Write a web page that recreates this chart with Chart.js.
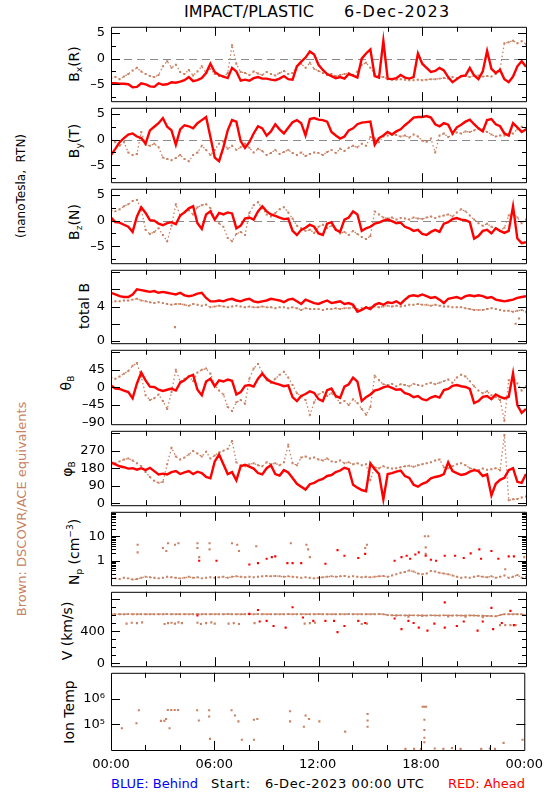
<!DOCTYPE html>
<html>
<head>
<meta charset="utf-8">
<script src="https://cdn.jsdelivr.net/npm/chart.js@4.4.1/dist/chart.umd.min.js"></script>
<style>
  body { margin: 0; background: #fff; overflow: hidden; }
  #wrap { position: relative; width: 550px; height: 800px; font-family: "DejaVu Sans"; color: #000; }
  #wrap canvas { position: absolute; left: 0; }
  .txt { position: absolute; white-space: pre; line-height: 1; }
  .rot { position: absolute; white-space: pre; line-height: 1; font-size: 14px;
         transform: translate(-50%, -50%) rotate(-90deg); }
  sub { font-size: 9px; vertical-align: -3px; line-height: 0; }
  sup { font-size: 9px; vertical-align: 6px; line-height: 0; }
</style>
</head>
<body>
<div id="wrap">
  <div class="txt" style="left:184px;top:4px;font-size:16px">IMPACT/PLASTIC</div>
  <div class="txt" style="left:344px;top:4px;font-size:16px;letter-spacing:1.3px">6-Dec-2023</div>

  <div class="rot" style="left:21px;top:186px;font-size:12px">(nanoTesla,  RTN)</div>
  <div class="rot" style="left:21px;top:509px;font-size:13px;color:rgb(200,130,100)">Brown: DSCOVR/ACE equivalents</div>

  <div class="rot" style="left:74px;top:64px">B<sub>x</sub>(R)</div>
  <div class="rot" style="left:74px;top:141px">B<sub>y</sub>(T)</div>
  <div class="rot" style="left:74px;top:222px">B<sub>z</sub>(N)</div>
  <div class="rot" style="left:84px;top:306px">total B</div>
  <div class="rot" style="left:66px;top:383px">θ<sub>B</sub></div>
  <div class="rot" style="left:67px;top:469px">φ<sub>B</sub></div>
  <div class="rot" style="left:74px;top:552px">N<sub>p</sub> (cm<sup>−3</sup>)</div>
  <div class="rot" style="left:67px;top:631px">V (km/s)</div>
  <div class="rot" style="left:69px;top:712px">Ion Temp</div>

  <div class="txt" style="left:111px;top:777px;font-size:13px;color:#0000ff">BLUE: Behind</div>
  <div class="txt" style="left:211px;top:777px;font-size:13px;letter-spacing:0.6px">Start:   6-Dec-2023 00:00 UTC</div>
  <div class="txt" style="right:25px;top:777px;font-size:13px;color:#ff0000">RED: Ahead</div>
</div>
<script>
// time grid, hours since 00:00 UTC, every 15 minutes
const hours = [];
for (let i = 0; i <= 96; i++) hours.push(i / 4);

const xTickHours = [0, 6, 12, 18, 24];
const xTickLabels = ['00:00', '06:00', '12:00', '18:00', '00:00'];

// Bx (R), nT
const bxRed = [
  -4.8,-4.8,-4.9,-4.9,-5.0,-5.6,-5.5,-4.8,-5.0,-5.4,-5.5,-4.8,
  -5.1,-5.0,-4.6,-4.7,-4.5,-4.2,-3.6,-4.4,-4.2,-3.8,-2.8,-1.0,
  -2.6,-3.2,-3.5,-3.8,-1.8,-2.5,-4.3,-4.1,-4.3,-3.8,-3.6,-3.9,
  -3.9,-4.1,-4.2,-3.9,-3.4,-4.0,-4.1,-1.5,-0.6,0.2,1.4,0.8,
  -1.2,-2.2,-3.0,-3.4,-3.8,-3.6,-3.9,-3.0,-3.3,-3.7,0.0,1.0,
  1.8,-3.4,-3.7,3.5,-3.9,-4.0,-3.8,-3.2,-3.7,-3.9,-3.6,1.0,
  -1.0,-1.8,-2.6,-2.4,-1.8,-2.3,-3.6,-4.6,-4.0,-3.4,-3.3,-1.8,
  -3.3,-4.0,-2.5,1.5,-2.0,-2.8,-2.2,-4.0,-4.6,-3.5,-1.5,-0.5,
  -1.6];
const bxBrown = [
  -3.8,-3.6,-4.0,-3.5,-3.0,-2.3,-1.8,-2.5,-3.0,-3.4,-3.6,-3.2,
  -1.5,-0.5,-1.8,-1.2,-2.6,-3.0,-2.2,-3.3,-2.5,-1.5,-2.8,-2.0,
  -3.0,-3.4,-3.5,-2.8,2.6,-1.0,-2.6,-2.8,-3.2,-2.5,-2.9,-3.2,
  -2.6,-3.0,-3.3,-2.8,-2.4,-3.0,-2.8,-1.5,-1.0,-1.8,-0.8,-2.0,
  -2.4,-2.8,-3.2,-3.0,-3.4,-3.2,-3.0,-2.8,-3.2,-2.5,-1.2,-0.8,
  -1.8,-3.0,-3.5,-3.6,-4.0,-4.1,-4.1,-4.0,-4.1,-4.2,-4.2,-4.1,
  -4.2,-4.1,-4.0,-4.0,-3.9,-3.8,-3.9,-3.6,-3.8,-3.5,-3.4,-3.6,
  -3.3,-3.3,-3.5,-3.4,-3.5,-3.0,-2.0,3.0,3.2,3.5,3.0,3.4,
  2.8];

// By (T), nT
const byRed = [
  -3.0,-1.8,-0.5,0.3,1.0,1.2,0.6,0.3,-0.8,1.8,2.5,3.2,
  4.2,2.5,1.8,-1.0,2.0,2.8,2.6,2.2,3.2,3.8,4.4,0.5,
  -3.5,-4.2,-1.5,1.8,3.8,3.5,-0.3,-1.6,-0.5,1.2,2.6,2.2,
  0.8,1.6,3.0,2.0,1.2,2.3,3.4,3.8,3.2,0.8,4.0,4.2,
  3.9,3.8,3.5,1.5,0.8,0.2,0.6,1.8,2.2,3.0,3.3,3.4,
  3.5,-1.0,0.3,0.8,1.5,1.0,1.6,2.0,2.8,3.5,4.3,4.4,
  4.4,4.6,4.3,3.0,2.6,3.2,2.9,1.2,2.4,2.9,3.5,3.9,
  3.0,2.2,1.6,3.8,4.0,3.0,2.6,1.2,0.8,3.2,2.4,1.5,
  2.0];
const byBrown = [
  0.2,-0.5,-1.2,-0.5,-2.5,-3.0,-2.8,1.5,-1.0,-1.2,-0.8,-1.5,
  -3.5,-3.8,-4.0,-3.6,-3.0,-3.8,-4.2,-3.0,-2.5,-1.2,-2.0,-3.0,
  -2.0,-0.8,-0.3,-1.8,-1.2,-2.0,-1.5,-0.8,-1.6,-2.5,-1.8,-2.2,
  -3.0,-2.6,-2.0,-2.8,-2.4,-2.0,-2.6,-3.0,-2.5,-3.2,-2.8,-2.5,
  -2.6,-3.0,-2.4,-2.0,-2.6,-1.8,-2.2,-1.6,-1.2,-1.5,-0.8,-1.2,
  0.5,0.2,-0.5,0.6,0.8,1.0,0.9,0.6,0.8,0.4,1.0,0.6,
  -0.2,-0.4,0.2,-2.5,0.8,1.2,0.5,1.0,1.4,1.2,1.6,1.5,
  1.8,2.2,2.0,1.5,1.0,0.6,0.8,0.8,1.0,1.2,2.0,2.5,
  2.2];

// Bz (N), nT
const bzRed = [
  0.6,-0.3,-0.4,-0.8,-1.2,-2.2,0.8,2.6,1.5,0.1,0.0,-0.6,
  -0.9,-0.5,-0.3,-0.7,1.0,1.6,2.4,2.8,-0.5,-1.6,1.2,1.8,
  0.2,1.5,1.2,1.6,1.4,-1.5,-1.0,0.4,0.6,0.2,1.8,2.8,
  1.8,1.2,0.9,0.6,0.3,0.4,-2.0,-2.8,-1.8,-1.4,-0.8,-1.2,
  -2.5,-2.8,-0.6,-0.3,-1.8,-2.2,0.2,0.6,1.8,1.2,-2.0,-1.5,
  -1.2,-0.6,-0.4,0.0,0.2,-0.1,-0.5,-0.4,-1.2,-1.5,-2.0,-1.8,
  -2.6,-2.8,-2.2,-1.8,-2.2,-0.6,-0.3,0.3,0.5,0.2,0.1,-0.3,
  -3.5,-3.0,-2.0,-1.8,-2.5,-1.5,-2.0,-2.4,-2.0,2.8,-3.5,-4.4,
  -4.2];
const bzBrown = [
  2.0,1.8,2.2,2.8,3.2,3.8,4.0,2.2,-1.8,-2.6,-2.2,-1.5,
  -2.8,-4.0,-1.0,3.2,1.0,1.6,2.0,1.2,2.6,3.0,3.2,2.4,
  0.4,-0.5,-1.2,-3.4,-4.0,-2.6,-2.2,-2.8,1.5,3.0,3.6,2.4,
  1.2,0.8,1.5,2.2,2.6,1.6,0.4,-1.0,-1.5,-2.0,-1.8,-2.4,
  -1.2,-0.8,-1.5,-1.0,-1.6,-2.5,-2.2,-2.8,-2.0,-2.6,-3.2,-3.6,
  -3.0,1.8,1.2,0.6,0.4,0.6,0.2,0.5,0.4,0.2,0.6,0.4,
  0.3,0.6,0.8,0.5,0.8,1.0,1.2,0.8,1.6,2.2,1.8,1.0,
  0.2,-0.5,-1.0,-0.6,-1.2,-1.5,-2.0,-1.4,1.0,1.5,0.6,-0.5,
  0.2];

// total B, nT
const btRed = [
  5.6,5.4,5.2,5.1,5.1,5.4,6.0,5.9,5.8,5.7,5.8,5.6,
  5.7,5.6,5.5,5.4,5.6,5.3,5.2,5.3,5.5,5.6,5.0,4.6,
  4.6,4.7,4.6,4.8,4.9,4.7,4.6,4.8,4.9,4.6,4.5,4.6,
  4.7,4.9,4.8,4.7,4.5,4.8,4.9,4.6,4.3,4.8,4.6,4.4,
  4.3,4.5,4.7,4.4,4.5,4.6,4.3,4.4,4.2,3.4,3.6,3.9,
  3.7,4.2,4.4,4.2,4.5,4.4,4.6,4.3,4.8,5.2,5.3,5.2,
  5.4,5.2,5.0,5.1,4.8,4.4,4.9,5.0,5.1,4.9,5.2,5.3,
  5.2,5.3,5.2,5.0,5.1,4.8,4.7,4.6,4.7,4.8,5.0,5.1,
  5.2];
const btBrown = [
  4.5,4.6,4.6,4.7,4.7,4.8,4.9,4.7,4.6,4.5,4.4,4.5,
  4.4,4.3,4.2,4.3,4.3,4.2,4.1,4.3,4.2,4.1,4.2,3.9,
  4.0,4.1,4.0,3.9,4.0,4.1,4.0,3.9,4.0,3.9,3.9,4.0,
  3.9,3.9,3.8,3.9,3.9,3.8,3.9,3.8,3.6,3.8,3.7,3.7,
  3.7,3.6,3.7,3.7,3.8,3.7,3.8,3.8,3.9,3.7,3.8,3.9,
  3.9,4.0,3.9,4.0,4.1,4.0,4.1,4.0,4.1,4.2,4.2,4.3,
  4.2,4.2,4.1,4.2,4.1,4.0,4.0,3.9,3.9,3.9,3.8,3.7,
  3.6,3.6,3.6,3.7,3.8,3.7,3.6,3.5,3.5,3.4,3.5,3.6,
  3.4];
const btBrownOutT = [3.7, 23.4, 23.6];
const btBrownOut = [1.6, 2.0, 2.6];

// theta_B, degrees
const thRed = [
  5,-3,-4,-8,-12,-28,10,38,18,2,1,-6,
  -9,-6,-3,-8,12,18,28,32,-6,-20,15,22,
  3,18,15,20,17,-18,-12,4,6,2,22,35,
  22,14,10,7,3,5,-25,-35,-22,-17,-10,-14,
  -30,-35,-7,-3,-22,-27,2,8,25,15,-35,-25,
  -18,-8,-5,0,3,-1,-6,-5,-15,-18,-25,-22,
  -30,-33,-26,-22,-26,-7,-4,4,6,3,1,-4,
  -40,-35,-24,-22,-30,-18,-24,-28,-24,36,-45,-65,
  -55];
const thBrown = [
  25,22,28,35,42,55,62,28,-20,-32,-28,-18,
  -35,-55,-12,45,15,22,28,16,38,45,48,35,
  6,-8,-18,-50,-60,-38,-32,-42,22,48,60,38,
  18,12,22,32,40,25,6,-15,-22,-32,-70,-38,
  -18,-12,-22,-15,-25,-40,-35,-45,-30,-40,-55,-70,
  -50,30,18,8,6,9,3,8,6,3,9,6,
  4,9,12,8,12,16,20,12,25,32,28,16,
  3,-8,-15,-10,-20,-25,-32,-85,18,26,10,-8,
  3];

// phi_B, degrees
const phRed = [
  210,200,190,185,178,180,172,180,170,182,165,148,
  152,148,160,165,150,158,165,150,162,155,135,128,
  215,250,200,150,160,118,190,198,188,178,155,148,
  180,195,150,142,170,158,130,100,85,70,98,105,
  118,125,140,145,160,168,182,175,95,80,68,62,
  205,175,150,20,150,155,162,168,140,130,95,85,
  100,108,128,135,140,150,210,165,155,145,150,162,
  170,165,140,148,40,100,120,130,170,180,110,105,
  150];
const phBrown = [
  195,205,215,225,230,220,205,190,160,135,115,105,
  110,200,285,240,225,235,250,268,255,240,265,230,
  245,260,270,280,320,210,195,190,200,205,195,190,
  210,200,205,195,210,300,205,195,235,240,230,235,
  225,220,230,215,212,220,205,210,200,205,195,200,
  120,185,180,190,182,178,180,185,190,192,188,195,
  200,205,210,220,225,185,180,190,200,205,195,180,
  175,170,178,172,175,180,170,350,15,20,22,30,
  35];

// proton density, cm^-3
const npBrown = [
  0.20,0.19,0.18,0.20,0.19,0.17,0.18,0.20,0.22,0.21,0.20,0.19,
  0.20,0.22,0.21,0.20,0.19,0.20,0.22,0.20,0.21,0.19,0.20,0.21,
  0.20,0.21,0.22,0.20,0.22,0.23,0.22,0.21,0.22,0.21,0.22,0.23,
  0.24,0.23,0.24,0.23,0.22,0.23,0.22,0.21,0.20,0.21,0.20,0.19,
  0.20,0.21,0.22,0.23,0.22,0.23,0.24,0.22,0.23,0.22,0.21,0.22,
  0.21,0.22,0.23,0.24,0.22,0.25,0.28,0.32,0.35,0.40,0.36,0.30,
  0.28,0.30,0.38,0.36,0.32,0.30,0.28,0.25,0.22,0.20,0.21,0.20,
  0.22,0.24,0.22,0.21,0.23,0.20,0.22,0.25,0.20,0.22,0.26,0.20,
  0.22];
const npBrownHiT = [1.54,1.54,3.0,3.2,3.3,3.7,3.9,5.0,5.0,5.1,5.7,5.7,7.0,7.3,7.4,8.4,10.4,11.3,11.4,11.5,14.7,14.8,18.2,18.15,18.35,18.2,22.8,23.9];
const npBrownHi = [4.5,2.2,3.3,2.5,5.2,4.5,5.2,5.2,3.3,1.4,5.2,2.9,5.2,4.5,2.5,3.9,5.2,4.5,2.9,1.4,3.3,4.5,3.5,10,10,1.9,0.45,1.4];
const npRedT = [5.1,6.1,8.0,8.5,9.0,9.3,9.5,10.2,10.5,11.0,12.4,13.1,13.5,14.3,14.7,16.4,16.8,17.1,17.3,17.6,17.8,18.2,18.5,18.8,19.3,19.9,20.4,20.8,21.3,21.4,22.0,22.4,23.0,23.3];
const npRed = [1.0,1.0,0.7,0.8,1.2,1.4,1.5,0.8,0.8,0.8,0.75,2.7,1.6,1.3,1.9,1.0,1.4,1.6,1.2,1.8,2.2,1.6,1.1,1.0,1.6,1.6,1.3,2.0,2.9,1.2,2.5,1.2,1.5,1.5];

// bulk speed, km/s
const vBrown = [
  612,612,611,612,613,612,612,612,611,612,612,612,
  612,613,612,612,611,612,612,612,613,612,612,611,
  612,612,612,613,612,612,611,612,612,612,613,612,
  612,611,612,612,612,613,612,612,612,611,612,612,
  613,612,612,612,611,612,612,613,612,612,612,611,
  612,612,613,612,600,598,597,597,596,598,597,596,
  596,595,597,596,595,597,596,595,596,594,595,596,
  595,593,592,590,588,585,600,612,612,612,612,610,
  600];
const vBrownLowT = [0.9,1.2,1.5,1.8,3.1,3.3,3.5,3.7,3.9,4.1,5.0,5.2,5.5,5.8,6.0,6.8,7.1,7.4,8.3,11.2,11.5,11.8,14.5,14.8,22.5,22.8,23.1,23.4,16.5,17.2,18.0,19.5,20.5,21.5];
const vBrownLow = [495,505,500,510,490,500,505,495,510,500,505,490,500,510,495,495,500,490,500,495,500,505,490,495,475,475,475,475,595,580,590,585,580,575];
const vRedT = [5.0,8.0,8.5,8.6,9.0,9.4,10.1,10.5,11.1,11.7,12.4,12.9,13.1,13.5,14.3,14.7,16.4,16.8,17.2,17.5,17.8,18.3,18.7,19.3,19.3,20.0,20.4,21.2,21.5,22.0,22.1,22.6,23.1,23.3];
const vRed = [596,615,664,520,528,464,445,698,570,528,528,528,389,464,528,502,558,426,528,502,445,408,494,758,445,464,520,408,520,690,426,502,653,475];

// ion temperature, K
const tempT = [0.63,1.48,1.62,2.9,3.1,3.2,3.3,3.4,3.5,3.7,3.9,5.0,5.1,5.7,5.7,5.75,7.0,7.2,7.4,7.6,8.3,8.3,8.5,10.4,10.4,11.2,11.3,11.5,12.1,13.6,14.9,14.9,14.9,18.1,18.2,18.3,18.2,18.2,18.2,18.2,17.1,17.6,18.0,18.8,19.3,19.8,20.3,21.5,22.0,22.3,22.8,23.9];
const temp = [7e4,1.1e5,3.5e5,1.35e5,1.35e5,1.6e5,3.6e5,7e4,3.6e5,3.6e5,3.6e5,3.5e5,1.4e5,3.5e5,2e5,2.7e4,3.5e5,2.2e5,1.3e5,2.5e4,1.5e5,2.5e4,1.6e5,3.2e5,1.3e5,8e4,2.2e5,1.6e5,1.3e5,5.2e4,2.5e5,1.4e5,8e4,4.8e5,4.8e5,4.8e5,1.5e5,6e4,3e4,2e4,1.1e4,1.1e4,1.1e4,1.15e4,1.1e4,1.2e4,1.1e4,1.1e4,1.15e4,1.1e4,1.9e4,2.5e4];

const RED = '#ff0000';
const BROWN = 'rgb(200,130,100)';
const FONT = 'DejaVu Sans';

function pts(xs, ys) {
  return ys.map((v, i) => ({x: xs[i], y: v}));
}
function redLine(ys) {
  return {data: pts(hours, ys), borderColor: RED, borderWidth: 2.4, pointRadius: 0, tension: 0, order: 0};
}
function brownLine(ys, dash) {
  return {data: pts(hours, ys), borderColor: BROWN, borderWidth: 1.3, borderDash: dash || [1.5, 2.5],
    pointRadius: 1.4, pointStyle: 'rect', pointBackgroundColor: BROWN, pointBorderWidth: 0, tension: 0, order: 1};
}
function dots(xs, ys, color) {
  return {data: pts(xs, ys), showLine: false, pointRadius: 1.5, pointStyle: 'rect',
    pointBackgroundColor: color, pointBorderWidth: 0, order: color === RED ? 0 : 1};
}

const dash = v => (v < 0 ? '–' + Math.abs(v) : String(v));

const panels = [
  {top: 23, h: 81, min: -8.3, max: 6.2, labels: [-5, 0, 5], major: [-5, 0, 5], minor: [-7.5, -2.5, 2.5], zero: 0,
   sets: [redLine(bxRed), brownLine(bxBrown)]},
  {top: 104, h: 81, min: -8.3, max: 6.2, labels: [-5, 0, 5], major: [-5, 0, 5], minor: [-7.5, -2.5, 2.5], zero: 0,
   sets: [redLine(byRed), brownLine(byBrown)]},
  {top: 185, h: 81, min: -8.3, max: 6.2, labels: [-5, 0, 5], major: [-5, 0, 5], minor: [-7.5, -2.5, 2.5], zero: 0,
   sets: [redLine(bzRed), brownLine(bzBrown)]},
  {top: 266, h: 80, min: -0.27, max: 8.27, labels: [0, 4], major: [0, 2, 4, 6, 8], minor: [],
   sets: [redLine(btRed), brownLine(btBrown), dots(btBrownOutT, btBrownOut, BROWN)]},
  {top: 346, h: 81, min: -94, max: 96, labels: [-90, -45, 0, 45], major: [-90, -45, 0, 45, 90], minor: [],
   sets: [redLine(thRed), brownLine(thBrown)]},
  {top: 427, h: 81, min: -10, max: 372, labels: [0, 90, 180, 270], major: [0, 90, 180, 270, 360], minor: [],
   sets: [redLine(phRed), brownLine(phBrown)]},
  {top: 508, h: 80, log: true, min: 0.1, max: 100, labels: [1, 10], major: [1, 10],
   minor: [0.2,0.3,0.4,0.5,0.6,0.7,0.8,0.9,2,3,4,5,6,7,8,9,20,30,40,50,60,70,80,90],
   sets: [dots(npRedT, npRed, RED), brownLine(npBrown), dots(npBrownHiT, npBrownHi, BROWN)]},
  {top: 588, h: 81, min: -35, max: 890, labels: [0, 400], major: [0, 400, 800], minor: [100, 200, 300, 500, 600, 700],
   sets: [dots(vRedT, vRed, RED), brownLine(vBrown, [5, 1.5]), dots(vBrownLowT, vBrownLow, BROWN)]},
  {top: 669, h: 81, log: true, min: 1e4, max: 1e7, labels: [1e5, 1e6], major: [1e5, 1e6], minor: [],
   fmt: v => (v === 1e5 ? '10⁵' : '10⁶'), last: true,
   sets: [dots(tempT, temp, BROWN)]}
];

// inward IDL-style tick marks, frame and dashed zero line
const frame = {
  id: 'frame',
  beforeDatasetsDraw(chart, args, o) {
    if (o.zero === undefined) return;
    const {ctx, chartArea: a, scales: {y}} = chart;
    const py = Math.round(y.getPixelForValue(o.zero)) + 0.5;
    ctx.save();
    ctx.strokeStyle = '#8a8a8a';
    ctx.lineWidth = 1;
    ctx.setLineDash([8, 5]);
    ctx.beginPath();
    ctx.moveTo(a.left, py);
    ctx.lineTo(a.right, py);
    ctx.stroke();
    ctx.restore();
  },
  afterDraw(chart, args, o) {
    const {ctx, chartArea: a, scales: {x, y}} = chart;
    ctx.save();
    ctx.strokeStyle = '#000';
    ctx.lineWidth = 1;
    ctx.beginPath();
    ctx.rect(a.left + 0.5, a.top + 0.5, a.right - a.left, a.bottom - a.top);
    for (let hr = 2; hr < 24; hr += 2) {
      const px = Math.round(x.getPixelForValue(hr)) + 0.5;
      const len = hr % 6 === 0 ? 9 : 5;
      ctx.moveTo(px, a.top); ctx.lineTo(px, a.top + len);
      ctx.moveTo(px, a.bottom); ctx.lineTo(px, a.bottom - len);
    }
    const yt = (vals, len) => vals.forEach(v => {
      const py = Math.round(y.getPixelForValue(v)) + 0.5;
      if (py <= a.top + 1 || py >= a.bottom - 1) return;
      ctx.moveTo(a.left, py); ctx.lineTo(a.left + len, py);
      ctx.moveTo(a.right + 1, py); ctx.lineTo(a.right + 1 - len, py);
    });
    yt(o.major, 9);
    yt(o.minor, 5);
    ctx.stroke();
    ctx.restore();
  }
};

const wrap = document.getElementById('wrap');
panels.forEach(p => {
  const pad = 10;
  const xh = 30;
  const cv = document.createElement('canvas');
  cv.width = 550;
  cv.height = p.last ? pad + p.h + xh : pad + p.h + 1 + pad;
  cv.style.top = (p.top - pad) + 'px';
  wrap.appendChild(cv);

  new Chart(cv, {
    type: 'line',
    data: {datasets: p.sets},
    options: {
      responsive: false,
      animation: false,
      devicePixelRatio: 1,
      layout: {padding: {left: 0, right: 24, top: pad, bottom: p.last ? 0 : pad + 1}},
      plugins: {
        legend: {display: false},
        tooltip: {enabled: false},
        frame: {zero: p.zero, major: p.major, minor: p.minor}
      },
      scales: {
        x: {
          type: 'linear', min: 0, max: 24, display: !!p.last,
          grid: {display: false, drawTicks: false},
          border: {display: false},
          afterBuildTicks: s => { s.ticks = xTickHours.map(v => ({value: v})); },
          afterFit: s => { if (p.last) s.height = xh; },
          ticks: {autoSkip: false, maxRotation: 0, padding: 7, color: '#000',
                  font: {family: FONT, size: 13}, callback: (v, i) => xTickLabels[i]}
        },
        y: {
          type: p.log ? 'logarithmic' : 'linear', min: p.min, max: p.max,
          grid: {display: false, drawTicks: false},
          border: {display: false},
          afterFit: s => { s.width = 111; },
          afterBuildTicks: s => { s.ticks = p.labels.map(v => ({value: v})); },
          ticks: {autoSkip: false, padding: 6, color: '#000', font: {family: FONT, size: 13},
                  callback: v => (p.fmt ? p.fmt(v) : dash(v))}
        }
      }
    },
    plugins: [frame]
  });
});
</script>
</body>
</html>
